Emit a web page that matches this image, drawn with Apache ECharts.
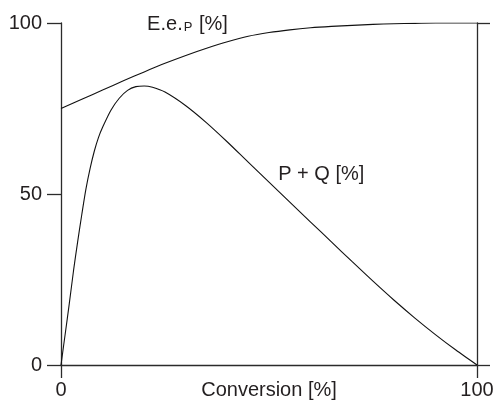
<!DOCTYPE html>
<html>
<head>
<meta charset="utf-8">
<script src="https://cdn.jsdelivr.net/npm/echarts@6/dist/echarts.min.js"></script>
<style>
html,body{margin:0;padding:0;background:#fff;}
#c{width:495px;height:401px;}
</style>
</head>
<body>
<div id="c"></div>
<script>
// Data
var eeX = [0, 5, 10, 15, 20, 25, 30, 35, 40, 45, 50, 55, 60, 65, 70, 75, 80, 85, 90, 95, 100];
var eeY = [75, 77.7, 80.4, 83.1, 85.7, 88.2, 90.5, 92.6, 94.5, 96.1, 97.2, 98.0, 98.6, 99.0, 99.3, 99.6, 99.8, 99.9, 100, 100, 100];

var pqX = [0, 1, 2, 3, 4, 5, 6, 7, 8, 9, 10, 12, 14, 16, 18, 20, 22, 25, 30, 35, 40, 45, 50, 55, 60, 65, 70, 75, 80, 85, 90, 95, 100];
var pqY = [0, 9, 18, 27.5, 36, 44, 51.5, 57.5, 62.5, 66.5, 69.5, 74.5, 78, 80.3, 81.4, 81.6, 81.2, 79.8, 75.8, 70.8, 65.2, 59.3, 53.5, 47.6, 41.8, 36, 30.2, 24.5, 19, 13.8, 8.9, 4.3, 0];

var xTicks = [0, 100];
var yTicks = [0, 50, 100];
var xName = 'Conversion [%]';
var eeLabelPos = [20.7, 100];
var pqLabelPos = [52.2, 55.8];

function pairs(xs, ys) { return xs.map(function (x, i) { return [x, ys[i]]; }); }

var FONT = '"Liberation Sans", Arial, Helvetica, sans-serif';
var TXT = '#231f20';
var AX = '#2b2b2b';

var chart = echarts.init(document.getElementById('c'), null, { renderer: 'canvas' });
chart.setOption({
  animation: false,
  backgroundColor: '#fff',
  textStyle: { fontFamily: FONT },
  grid: { left: 61, right: 18, top: 23, bottom: 36, containLabel: false, outerBoundsMode: 'none' },
  xAxis: {
    type: 'value', min: xTicks[0], max: xTicks[xTicks.length - 1], interval: 100,
    axisLine: { onZero: false, lineStyle: { color: AX, width: 1.3 } },
    axisTick: { length: 13, lineStyle: { color: AX, width: 1.3 } },
    axisLabel: { margin: 15, fontSize: 20, color: TXT, fontFamily: FONT },
    splitLine: { show: false },
    name: xName, nameLocation: 'middle', nameGap: 15, nameMoveOverlap: false,
    nameTextStyle: { fontSize: 20, color: TXT, fontFamily: FONT }
  },
  yAxis: [{
    type: 'value', min: yTicks[0], max: yTicks[yTicks.length - 1], interval: 50, position: 'left',
    axisLine: { show: true, onZero: false, lineStyle: { color: AX, width: 1.3 } },
    axisTick: { show: true, length: 14, lineStyle: { color: AX, width: 1.3 } },
    axisLabel: { margin: 19, fontSize: 20, color: TXT, fontFamily: FONT },
    splitLine: { show: false }
  }, {
    type: 'value', min: yTicks[0], max: yTicks[yTicks.length - 1], interval: 100, position: 'right',
    axisLine: { show: true, onZero: false, lineStyle: { color: AX, width: 1.3 } },
    axisTick: { show: true, length: 13, lineStyle: { color: AX, width: 1.3 } },
    axisLabel: { show: false },
    splitLine: { show: false }
  }],
  series: [{
    type: 'line', name: 'ee', data: pairs(eeX, eeY), showSymbol: false, symbol: 'none',
    smooth: 0.3,
    lineStyle: { color: '#111', width: 1.1 },
    markPoint: {
      symbol: 'circle', symbolSize: 0,
      data: [{ coord: eeLabelPos }],
      label: {
        show: true, position: [0, 0], align: 'left', verticalAlign: 'middle',
        formatter: '{a|E.e.}{s|P}{a| [%]}',
        rich: {
          a: { fontSize: 20, color: TXT, fontFamily: FONT, verticalAlign: 'bottom', lineHeight: 22 },
          s: { fontSize: 13, color: TXT, fontFamily: FONT, verticalAlign: 'bottom', lineHeight: 13, padding: [0, 1, 0, 1] }
        }
      }
    }
  }, {
    type: 'line', name: 'pq', data: pairs(pqX, pqY), showSymbol: false, symbol: 'none',
    smooth: 0.3,
    lineStyle: { color: '#111', width: 1.1 },
    markPoint: {
      symbol: 'circle', symbolSize: 0,
      data: [{ coord: pqLabelPos }],
      label: {
        show: true, position: [0, 0], align: 'left', verticalAlign: 'middle',
        formatter: 'P + Q [%]', fontSize: 20, color: TXT, fontFamily: FONT
      }
    }
  }]
});
</script>
</body>
</html>
